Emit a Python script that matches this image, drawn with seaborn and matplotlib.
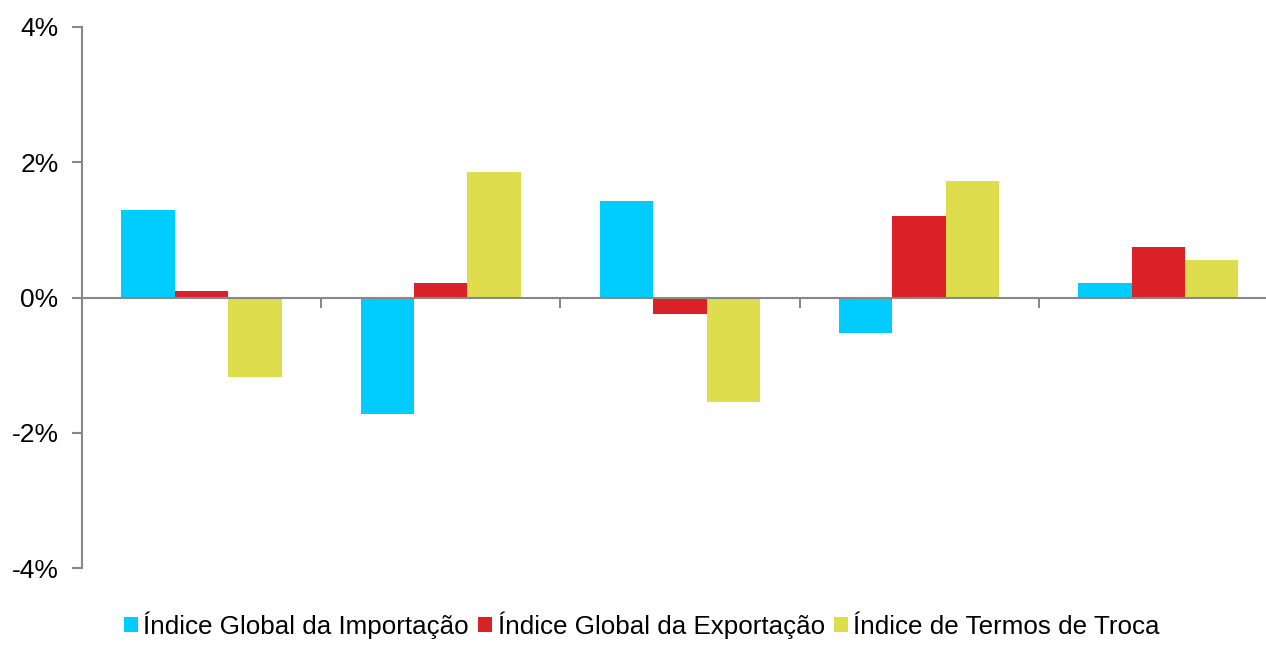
import matplotlib

matplotlib.use("Agg")

import matplotlib.pyplot as plt
from matplotlib.patches import Patch
import pandas as pd
import seaborn as sns

periods = ["1", "2", "3", "4", "5"]
series_names = [
    "Índice Global da Importação",
    "Índice Global da Exportação",
    "Índice de Termos de Troca",
]
importacao = [1.29, -1.73, 1.43, -0.52, 0.22]
exportacao = [0.10, 0.21, -0.25, 1.20, 0.75]
termos_troca = [-1.17, 1.86, -1.55, 1.72, 0.55]
colors = ["#00CCFF", "#DA2128", "#DDDD4D"]

df = pd.DataFrame({
    "period": periods * 3,
    "serie": [s for s in series_names for _ in periods],
    "value": importacao + exportacao + termos_troca,
})

sns.set_theme(style="white")
plt.rcParams["font.family"] = ["Liberation Sans", "DejaVu Sans"]
plt.rcParams["text.color"] = "black"

fig = plt.figure(figsize=(12.66, 6.5), dpi=100)
ax = fig.add_axes([82 / 1266, 1 - 568 / 650, 1 - 82 / 1266, (568 - 27) / 650])

sns.barplot(
    data=df, x="period", y="value", hue="serie", order=periods,
    hue_order=series_names, palette=colors, width=0.67, saturation=1,
    linewidth=0, ax=ax, legend=False,
)

ax.set_ylim(-4, 4)
ax.set_xlim(-0.5, 4.45)
ax.set_yticks([-4, -2, 0, 2, 4])
ax.set_yticklabels(["-4%", "-2%", "0%", "2%", "4%"], fontsize=19, color="black")
ax.set_xticks([0.5, 1.5, 2.5, 3.5])
ax.set_xticklabels([])
ax.set_xlabel("")
ax.set_ylabel("")

for side in ["top", "right"]:
    ax.spines[side].set_visible(False)
ax.spines["bottom"].set_position(("data", 0))
for side in ["left", "bottom"]:
    ax.spines[side].set_color("#888888")
    ax.spines[side].set_linewidth(1.5)
ax.tick_params(axis="both", direction="out", length=7, width=1.5, color="#888888", left=True, bottom=True)
ax.tick_params(axis="y", pad=10)

handles = [Patch(facecolor=c, edgecolor="none") for c in colors]
fig.legend(
    handles, series_names, loc="center", bbox_to_anchor=(0.507, 1 - 625 / 650),
    ncol=3, frameon=False, fontsize=18.7, handlelength=0.55, handleheight=0.55,
    handletextpad=0.2, columnspacing=0.35, labelcolor="black",
)

fig.savefig("out.png", dpi=100)
